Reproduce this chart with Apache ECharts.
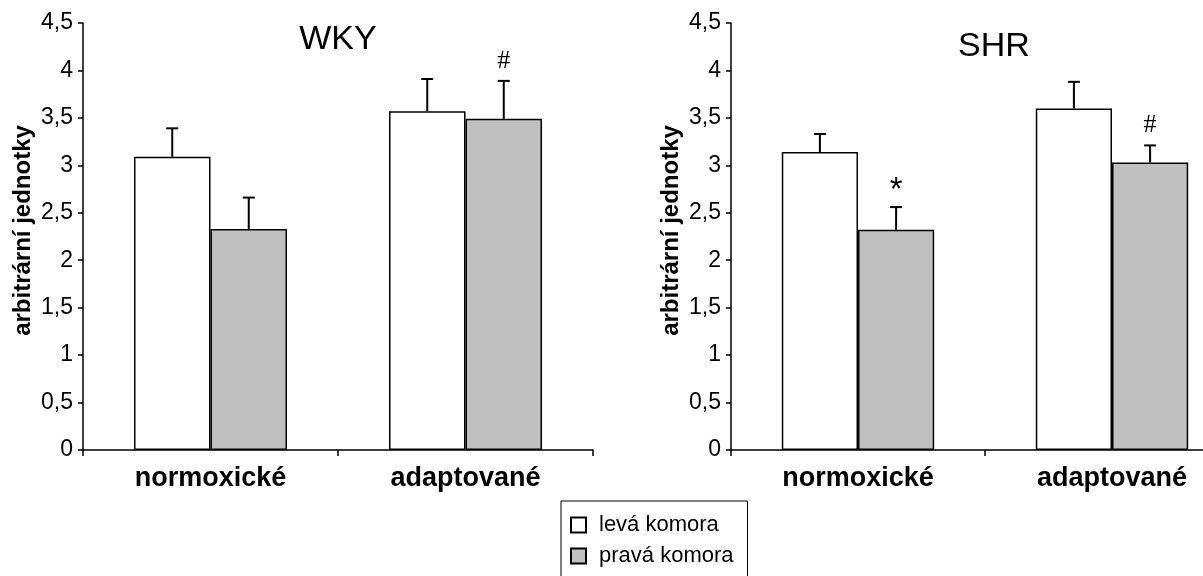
<!DOCTYPE html>
<html>
<head>
<meta charset="utf-8">
<script src="https://cdn.jsdelivr.net/npm/echarts@6/dist/echarts.min.js"></script>
<style>
  html, body { margin: 0; padding: 0; background: #ffffff; }
  #chart { width: 1203px; height: 576px; }
</style>
</head>
<body>
<div id="chart"></div>
<script>
// Groups on the category axis
const categories = ['normoxické', 'adaptované'];

// WKY: means and upper error (SD) for left and right ventricle
const wkyLeva = [3.09, 3.57];
const wkyLevaErr = [0.30, 0.34];
const wkyPrava = [2.33, 3.49];
const wkyPravaErr = [0.33, 0.40];
const wkyPravaMarks = ['', '#'];

// SHR: means and upper error (SD) for left and right ventricle
const shrLeva = [3.14, 3.60];
const shrLevaErr = [0.19, 0.28];
const shrPrava = [2.32, 3.03];
const shrPravaErr = [0.24, 0.18];
const shrPravaMarks = ['*', '#'];

// Value axis ticks
const yMin = 0, yMax = 4.5, yStep = 0.5;

const FONT = 'Liberation Sans, Arial, sans-serif';
const seriesNames = ['levá komora', 'pravá komora'];

const chart = echarts.init(document.getElementById('chart'), null, { renderer: 'canvas' });

// Upper whisker with cap, plus an optional significance mark above it
function errorBarSeries(name, gridIdx, means, errs, side, marks) {
  const data = means.map((m, i) => [i, m, errs[i]]);
  return {
    name: name,
    type: 'custom',
    xAxisIndex: gridIdx,
    yAxisIndex: gridIdx,
    z: 5,
    silent: true,
    clip: false,
    data: data,
    renderItem: function (params, api) {
      const idx = api.value(0);
      const v = api.value(1);
      const e = api.value(2);
      const band = api.size([1, 0])[0];
      const base = api.coord([idx, v]);
      const top = api.coord([idx, v + e]);
      const cx = base[0] + side * 0.15 * band;
      const style = { stroke: '#000', lineWidth: 2 };
      const children = [
        { type: 'line', shape: { x1: cx, y1: base[1], x2: cx, y2: top[1] }, style: style },
        { type: 'line', shape: { x1: cx - 6, y1: top[1], x2: cx + 6, y2: top[1] }, style: style }
      ];
      const mark = marks ? marks[params.dataIndex] : '';
      if (mark) {
        const star = mark === '*';
        children.push({
          type: 'text',
          style: {
            text: mark,
            x: cx,
            y: top[1] - (star ? 0 : 7),
            align: 'center',
            verticalAlign: 'bottom',
            fill: '#000',
            font: star ? '33px ' + FONT : '26px Liberation Serif, Times New Roman, serif'
          }
        });
      }
      return { type: 'group', children: children };
    }
  };
}

function barSeries(name, gridIdx, values, color) {
  return {
    name: name,
    type: 'bar',
    xAxisIndex: gridIdx,
    yAxisIndex: gridIdx,
    barWidth: '30%',
    barGap: '0%',
    data: values,
    itemStyle: { color: color, borderColor: '#000', borderWidth: 1.5 }
  };
}

function xAxisFor(gridIdx) {
  return {
    type: 'category',
    gridIndex: gridIdx,
    data: categories,
    axisLine: { lineStyle: { color: '#000', width: 1.5 } },
    axisTick: { show: true, length: 6, lineStyle: { color: '#000', width: 1.5 } },
    axisLabel: { color: '#000', fontFamily: FONT, fontSize: 27, fontWeight: 'bold', margin: 15 }
  };
}

function yAxisFor(gridIdx) {
  return {
    type: 'value',
    gridIndex: gridIdx,
    min: yMin,
    max: yMax,
    interval: yStep,
    name: 'arbitrární jednotky',
    nameLocation: 'middle',
    nameRotate: 90,
    nameGap: 48,
    nameTextStyle: { color: '#000', fontFamily: FONT, fontSize: 24, fontWeight: 'bold', padding: [0, 0, 0, 12] },
    splitLine: { show: false },
    axisLine: { show: true, lineStyle: { color: '#000', width: 1.5 } },
    axisTick: { show: true, length: 5, lineStyle: { color: '#000', width: 1.5 } },
    axisLabel: {
      color: '#000', fontFamily: FONT, fontSize: 23, margin: 10,
      formatter: v => String(v).replace('.', ',')
    }
  };
}

chart.setOption({
  animation: false,
  backgroundColor: '#ffffff',
  title: [
    { text: 'WKY', left: 333, top: 18, textAlign: 'center',
      textStyle: { color: '#000', fontFamily: FONT, fontSize: 34, fontWeight: 'normal' } },
    { text: 'SHR', left: 989, top: 25, textAlign: 'center',
      textStyle: { color: '#000', fontFamily: FONT, fontSize: 34, fontWeight: 'normal' } }
  ],
  legend: {
    data: seriesNames,
    orient: 'vertical',
    left: 561,
    top: 501,
    height: 120,
    icon: 'rect',
    itemWidth: 15,
    itemHeight: 15,
    itemGap: 9,
    borderColor: '#000',
    borderWidth: 1,
    borderRadius: 0,
    padding: [13, 14, 15, 9],
    selectedMode: false,
    textStyle: { color: '#000', fontFamily: FONT, fontSize: 22, lineHeight: 15, padding: [0, 0, 0, 8] }
  },
  grid: [
    { left: 83, top: 23, width: 510, height: 427, outerBoundsMode: 'none' },
    { left: 731, top: 23, width: 508, height: 427, outerBoundsMode: 'none' }
  ],
  xAxis: [xAxisFor(0), xAxisFor(1)],
  yAxis: [yAxisFor(0), yAxisFor(1)],
  series: [
    barSeries(seriesNames[0], 0, wkyLeva, '#ffffff'),
    barSeries(seriesNames[1], 0, wkyPrava, '#c0c0c0'),
    barSeries(seriesNames[0], 1, shrLeva, '#ffffff'),
    barSeries(seriesNames[1], 1, shrPrava, '#c0c0c0'),
    errorBarSeries('chyba WKY levá', 0, wkyLeva, wkyLevaErr, -1, null),
    errorBarSeries('chyba WKY pravá', 0, wkyPrava, wkyPravaErr, 1, wkyPravaMarks),
    errorBarSeries('chyba SHR levá', 1, shrLeva, shrLevaErr, -1, null),
    errorBarSeries('chyba SHR pravá', 1, shrPrava, shrPravaErr, 1, shrPravaMarks)
  ]
});
</script>
</body>
</html>
